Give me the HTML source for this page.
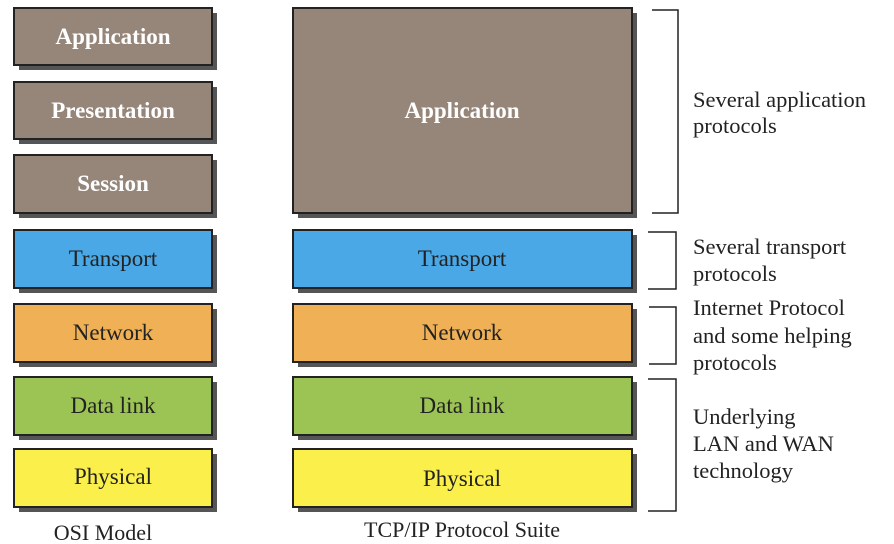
<!DOCTYPE html>
<html><head><meta charset="utf-8"><style>
html,body{margin:0;padding:0;background:#fff;}
svg{display:block;}
text{font-family:"Liberation Serif",serif;}
</style></head><body>
<svg width="894" height="544" viewBox="0 0 894 544" xmlns="http://www.w3.org/2000/svg">
<g stroke="#222" stroke-width="2">
  <!-- shadows -->
  <g fill="#555" stroke="none">
    <rect x="19" y="13" width="198" height="57"/>
    <rect x="19" y="87" width="198" height="57"/>
    <rect x="19" y="160" width="198" height="58"/>
    <rect x="19" y="235" width="198" height="58"/>
    <rect x="19" y="309" width="198" height="58"/>
    <rect x="19" y="382" width="198" height="58"/>
    <rect x="19" y="454" width="198" height="58"/>
    <rect x="298" y="13" width="339" height="205"/>
    <rect x="298" y="235" width="339" height="58"/>
    <rect x="298" y="309" width="339" height="58"/>
    <rect x="298" y="382" width="339" height="58"/>
    <rect x="298" y="454" width="339" height="58"/>
  </g>
  <rect x="14" y="8" width="198" height="57" fill="#968679"/>
  <rect x="14" y="82" width="198" height="57" fill="#968679"/>
  <rect x="14" y="155" width="198" height="58" fill="#968679"/>
  <rect x="14" y="230" width="198" height="58" fill="#4aa8e6"/>
  <rect x="14" y="304" width="198" height="58" fill="#efb056"/>
  <rect x="14" y="377" width="198" height="58" fill="#9bc454"/>
  <rect x="14" y="449" width="198" height="58" fill="#fbef4c"/>
  <rect x="293" y="8" width="339" height="205" fill="#968679"/>
  <rect x="293" y="230" width="339" height="58" fill="#4aa8e6"/>
  <rect x="293" y="304" width="339" height="58" fill="#efb056"/>
  <rect x="293" y="377" width="339" height="58" fill="#9bc454"/>
  <rect x="293" y="449" width="339" height="58" fill="#fbef4c"/>
</g>
<g fill="none" stroke="#222" stroke-width="1.5">
  <polyline points="652,10 678,10 678,213 652,213"/>
  <polyline points="648,232 676,232 676,289 648,289"/>
  <polyline points="649,307 676,307 676,364 649,364"/>
  <polyline points="648,379 676,379 676,511 648,511"/>
</g>
<g font-size="23" text-anchor="middle">
  <text x="113" y="44" fill="#fff" font-weight="bold">Application</text>
  <text x="113" y="118" fill="#fff" font-weight="bold">Presentation</text>
  <text x="113" y="191" fill="#fff" font-weight="bold">Session</text>
  <text x="113" y="266" fill="#222">Transport</text>
  <text x="113" y="340" fill="#222">Network</text>
  <text x="113" y="413" fill="#222">Data link</text>
  <text x="113" y="484" fill="#222">Physical</text>
  <text x="462" y="118" fill="#fff" font-weight="bold">Application</text>
  <text x="462" y="266" fill="#222">Transport</text>
  <text x="462" y="340" fill="#222">Network</text>
  <text x="462" y="413" fill="#222">Data link</text>
  <text x="462" y="486" fill="#222">Physical</text>
  <text x="103" y="540" fill="#222" font-size="22">OSI Model</text>
  <text x="462" y="537" fill="#222" font-size="22">TCP/IP Protocol Suite</text>
</g>
<g font-size="22.5" fill="#222">
  <text x="693" y="107">Several application</text>
  <text x="693" y="133">protocols</text>
  <text x="693" y="254">Several transport</text>
  <text x="693" y="281">protocols</text>
  <text x="693" y="315">Internet Protocol</text>
  <text x="693" y="343">and some helping</text>
  <text x="693" y="370">protocols</text>
  <text x="693" y="424">Underlying</text>
  <text x="693" y="451">LAN and WAN</text>
  <text x="693" y="478">technology</text>
</g>
</svg>
</body></html>
